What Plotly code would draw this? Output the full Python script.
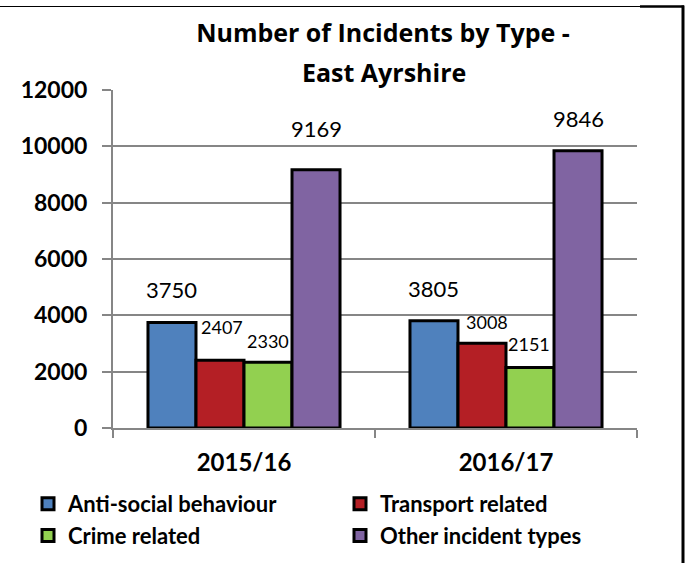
import plotly.graph_objects as go

categories = ["2015/16", "2016/17"]
series_names = ["Anti-social behaviour", "Transport related", "Crime related", "Other incident types"]
anti_social = [3750, 3805]
transport = [2407, 3008]
crime = [2330, 2151]
other = [9169, 9846]
y_ticks = [0, 2000, 4000, 6000, 8000, 10000, 12000]

series_values = [anti_social, transport, crime, other]
colors = ["#4F81BD", "#B41F25", "#92D050", "#8064A2"]

FONT = "Lato"
TFONT = "Open Sans"
W, H = 685, 563
L, R, T, B = 113, 48, 90, 135
PW, PH = W - L - R, H - T - B

def px_x(p):
    return (p - L) / PW

def px_y(p):
    return (H - B - p) / PH

fig = go.Figure()
for name, vals, col in zip(series_names, series_values, colors):
    fig.add_trace(go.Bar(
        x=categories, y=vals, name="<b>" + name + "</b>",
        marker=dict(color=col, line=dict(color="black", width=3)),
    ))

bargap = 0.267
bw = (1 - bargap) / 4
# label styles: (font size, x pixel shift, y pixel shift) per series per category
label_style = [
    [(22, 0, 17), (22, 0, 17)],
    [(18, 2, 20), (18, 5, 8)],
    [(18, 0, 8), (18, -1, 10)],
    [(22, 0, 26), (22, 0, 17)],
]
annotations = []
for si, vals in enumerate(series_values):
    for ci, v in enumerate(vals):
        fs, dx, dy = label_style[si][ci]
        annotations.append(dict(
            x=ci + (si - 1.5) * bw, y=v, xref="x", yref="y",
            text=str(v), showarrow=False, yanchor="bottom",
            xshift=dx, yshift=dy,
            font=dict(family=FONT, size=fs, color="black"),
        ))

annotations.append(dict(
    x=px_x(384), y=px_y(72), xref="paper", yref="paper", text="<b>East Ayrshire</b>",
    showarrow=False, xanchor="center", yanchor="middle",
    font=dict(family=TFONT, size=25, color="black"),
))

shapes = [
    dict(type="line", xref="paper", yref="paper", x0=px_x(0), x1=px_x(641), y0=px_y(6.5), y1=px_y(6.5),
         line=dict(color="black", width=1.2)),
    dict(type="line", xref="paper", yref="paper", x0=px_x(640), x1=px_x(684), y0=px_y(6.5), y1=px_y(6.5),
         line=dict(color="black", width=2.5)),
    dict(type="line", xref="paper", yref="paper", x0=px_x(683), x1=px_x(683), y0=px_y(5.5), y1=px_y(563),
         line=dict(color="black", width=3)),
]

fig.update_layout(
    width=W, height=H,
    margin=dict(l=L, r=R, t=T, b=B, autoexpand=False),
    paper_bgcolor="white", plot_bgcolor="white",
    barmode="group", bargap=bargap, bargroupgap=0,
    title=dict(text="<b>Number of Incidents by Type -</b>", x=px_x(383), xref="paper", xanchor="center",
               y=1 - 33 / H, yanchor="middle", font=dict(family=TFONT, size=25, color="black")),
    font=dict(family=FONT, color="black"),
    xaxis=dict(type="category", range=[-0.5, 1.5], showline=True, linecolor="#868686", linewidth=2,
               ticks="outside", tickson="boundaries", ticklen=8, tickcolor="#868686", tickwidth=2,
               tickfont=dict(family=FONT, size=24, color="black", weight="bold"), ticklabelstandoff=12,
               showgrid=False, fixedrange=True),
    yaxis=dict(range=[0, 12000], tickvals=y_ticks, ticktext=[str(v) for v in y_ticks],
               showline=True, linecolor="#868686", linewidth=2,
               ticks="outside", ticklen=9, tickcolor="#868686", tickwidth=2,
               showgrid=True, gridcolor="#868686", gridwidth=2, zeroline=False,
               tickfont=dict(family=FONT, size=23, color="black", weight="bold"), ticklabelstandoff=10,
               fixedrange=True),
    legend=dict(orientation="h", x=px_x(28), xanchor="left", y=px_y(483), yanchor="top",
                entrywidth=267, entrywidthmode="pixels", itemwidth=30, tracegroupgap=0,
                font=dict(family=FONT, size=22, color="black"), bgcolor="rgba(0,0,0,0)"),
    annotations=annotations,
    shapes=shapes,
    showlegend=True,
)

fig.write_html("out.html")
